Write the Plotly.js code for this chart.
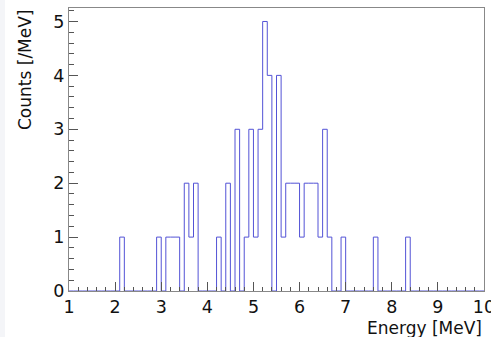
<!DOCTYPE html>
<html>
<head>
<meta charset="utf-8">
<script src="https://cdn.plot.ly/plotly-3.0.1.min.js"></script>
<style>html,body{margin:0;padding:0;background:#fff;}#chart{width:491px;height:337px;}</style>
</head>
<body>
<div id="chart"></div>
<script>
// Histogram: 90 bins of 0.1 MeV from 1 to 10 MeV; only non-empty bins listed
const xMin = 1.0;
const xMax = 10.0;
const binWidth = 0.1;
const binLowEdges = [2.1, 2.9, 3.1, 3.2, 3.3, 3.5, 3.6, 3.7, 4.2, 4.4, 4.6, 4.8, 4.9, 5.0, 5.1, 5.2, 5.3, 5.5, 5.6, 5.7, 5.8, 5.9, 6.0, 6.1, 6.2, 6.3, 6.4, 6.5, 6.6, 6.9, 7.6, 8.3];
const binCounts   = [1,   1,   1,   1,   1,   2,   1,   2,   1,   2,   3,   1,   3,   1,   3,   5,   4,   4,   1,   2,   2,   2,   1,   2,   2,   2,   1,   3,   1,   1,   1,   1];
const xTickLabels = ['1','2','3','4','5','6','7','8','9','10'];
const yTickLabels = ['0','1','2','3','4','5'];
const xTitle = 'Energy [MeV]';
const yTitle = 'Counts [/MeV]';

// Build the full step outline (empty bins are zero)
const nBins = Math.round((xMax - xMin) / binWidth);
const full = new Array(nBins).fill(0);
binLowEdges.forEach((lo, i) => { full[Math.round((lo - xMin) / binWidth)] = binCounts[i]; });
const xs = [], ys = [];
for (let i = 0; i < nBins; i++) { xs.push(+(xMin + i * binWidth).toFixed(4)); ys.push(full[i]); }
xs.push(xMax); ys.push(full[nBins - 1]);

const W = 491, H = 337;
const m = {l: 69, r: 7, t: 8, b: 46};
const pw = W - m.l - m.r, ph = H - m.t - m.b;
const font = {family: 'DejaVu Sans, Liberation Sans, Arial, sans-serif', size: 17, color: '#111'};
const tfont = {family: 'DejaVu Sans, Liberation Sans, Arial, sans-serif', size: 17.5, color: '#111'};

const trace = {
  x: xs, y: ys, type: 'scatter', mode: 'lines',
  line: {shape: 'hv', color: '#5252d6', width: 1},
  hoverinfo: 'none', showlegend: false
};

const layout = {
  width: W, height: H,
  margin: m,
  paper_bgcolor: '#ffffff', plot_bgcolor: '#ffffff',
  font: font,
  showlegend: false,
  xaxis: {
    range: [xMin, xMax], tickmode: 'array',
    tickvals: xTickLabels.map(Number), ticktext: xTickLabels,
    ticks: 'inside', ticklen: 9, tickwidth: 1, tickcolor: '#555',
    minor: {dtick: 0.2, ticks: 'inside', ticklen: 4, tickwidth: 1, tickcolor: '#555', showgrid: false},
    showgrid: false, zeroline: false,
    showline: true, mirror: true, linecolor: '#888', linewidth: 1,
    tickfont: tfont, ticklabeloverflow: 'allow', fixedrange: true
  },
  yaxis: {
    range: [0, 5.25], tickmode: 'array',
    tickvals: yTickLabels.map(Number), ticktext: yTickLabels,
    ticks: 'inside', ticklen: 9, tickwidth: 1, tickcolor: '#555',
    minor: {dtick: 0.2, ticks: 'inside', ticklen: 5, tickwidth: 1, tickcolor: '#555', showgrid: false},
    showgrid: false, zeroline: false,
    showline: true, mirror: true, linecolor: '#888', linewidth: 1,
    tickfont: tfont, ticklabeloverflow: 'allow', fixedrange: true
  },
  shapes: [{
    type: 'rect', xref: 'paper', yref: 'paper', layer: 'below',
    x0: -m.l / pw, x1: (5 - m.l) / pw, y0: -m.b / ph, y1: 1 + m.t / ph,
    fillcolor: '#f4f5f8', line: {width: 0}
  }],
  annotations: [
    {text: xTitle, xref: 'paper', yref: 'paper', x: 1, y: (291 - 328) / ph,
     xanchor: 'right', yanchor: 'middle', showarrow: false, font: font},
    {text: yTitle, xref: 'paper', yref: 'paper', x: (25 - m.l) / pw, y: (291 - 70) / ph,
     xanchor: 'center', yanchor: 'middle', textangle: -90, showarrow: false, font: font}
  ]
};

Plotly.newPlot('chart', [trace], layout, {staticPlot: true, displayModeBar: false});
</script>
</body>
</html>
